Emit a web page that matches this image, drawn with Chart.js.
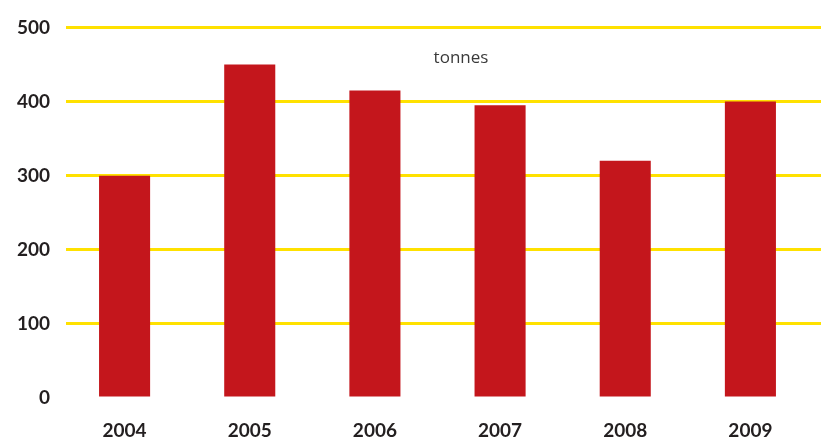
<!DOCTYPE html>
<html>
<head>
<meta charset="utf-8">
<script src="https://cdn.jsdelivr.net/npm/chart.js@4"></script>
<style>
  html, body { margin: 0; padding: 0; background: #fff; }
  #wrap { width: 821px; height: 438px; }
</style>
</head>
<body>
<div id="wrap"><canvas id="myChart" width="821" height="438"></canvas></div>
<script>
// datos
var years = [2004, 2005, 2006, 2007, 2008, 2009];
var tonnes = [300, 450, 415, 395, 320, 400];
var yTicks = [0, 100, 200, 300, 400, 500];
var unitLabel = 'tonnes';

var points = years.map(function(y, i) {
    return { x: y, y: tonnes[i] };
});

// texto de la unidad dentro del area
var unitPlugin = {
    id: 'unitText',
    afterDraw: function(chart) {
        var c = chart.ctx;
        c.save();
        c.font = '17px "Open Sans", sans-serif';
        c.fillStyle = '#3a3a3a';
        c.textAlign = 'center';
        c.textBaseline = 'middle';
        c.fillText(unitLabel, 461, 58);
        c.restore();
    }
};

var ctx = document.getElementById('myChart').getContext('2d');
var myChart = new Chart(ctx, {
    type: 'bar',
    data: {
        datasets: [{
            data: points,
            backgroundColor: '#c4161c',
            borderWidth: 0,
            categoryPercentage: 1,
            barPercentage: 0.408
        }]
    },
    plugins: [unitPlugin],
    options: {
        responsive: false,
        animation: false,
        layout: { padding: { top: 26, right: 0, left: 0, bottom: 0 } },
        plugins: {
            legend: { display: false },
            tooltip: { enabled: false }
        },
        scales: {
            x: {
                type: 'linear',
                offset: false,
                min: 2003.532,
                max: 2009.564,
                afterFit: function(scale) { scale.height = 40; },
                grid: { display: false, drawTicks: false, offset: false },
                border: { display: false },
                ticks: {
                    stepSize: 1,
                    includeBounds: false,
                    autoSkip: false,
                    maxRotation: 0,
                    padding: 21,
                    color: '#231f20',
                    font: { family: 'Lato', size: 19, weight: 'bold' },
                    callback: function(v) {
                        return years.indexOf(v) >= 0 ? String(v) : '';
                    }
                }
            },
            y: {
                min: yTicks[0],
                max: yTicks[yTicks.length - 1],
                afterFit: function(scale) { scale.width = 66; },
                grid: {
                    drawTicks: false,
                    lineWidth: 3,
                    color: function(c) {
                        return c.tick && c.tick.value === 0 ? 'rgba(0,0,0,0)' : '#ffe100';
                    }
                },
                border: { display: false },
                ticks: {
                    stepSize: 100,
                    padding: 16,
                    color: '#231f20',
                    font: { family: 'Lato', size: 19, weight: 'bold' }
                }
            }
        }
    }
});
</script>
</body>
</html>
